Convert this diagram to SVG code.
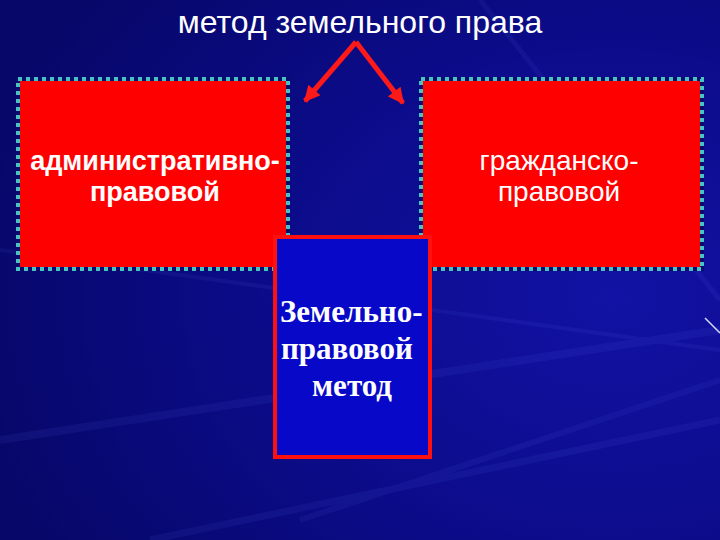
<svg xmlns="http://www.w3.org/2000/svg" width="720" height="540" viewBox="0 0 720 540">
<defs>
<radialGradient id="bg" cx="0.85" cy="0.55" r="0.9">
<stop offset="0" stop-color="#1212a4"/>
<stop offset="0.5" stop-color="#0c0c8c"/>
<stop offset="1" stop-color="#07076a"/>
</radialGradient>
<marker id="ah" viewBox="0 0 10 10" refX="9" refY="5" markerWidth="3.6" markerHeight="3.2" orient="auto" markerUnits="strokeWidth">
<path d="M0,0 L10,5 L0,10 z" fill="#ff1a1a"/>
</marker>
<style>
.red{fill:#ff0000;stroke:#0a0a70;stroke-width:4}
.dots{fill:none;stroke:#48c4c0;stroke-width:4;stroke-dasharray:4 4}
.sans{font-family:"Liberation Sans",Arial,sans-serif;fill:#ffffff;text-anchor:middle}
.serif{font-family:"Liberation Serif","Times New Roman",serif;fill:#ffffff;font-weight:bold;font-size:31px}
.conn{stroke:#ff1a1a;stroke-width:5;fill:none;marker-end:url(#ah)}
</style>
</defs>
<rect width="720" height="540" fill="url(#bg)"/>
<g opacity="0.08" stroke="#6a7cff" fill="none">
<path d="M720,330 L0,440" stroke-width="8"/>
<path d="M720,380 L300,520" stroke-width="6"/>
<path d="M720,300 L480,0" stroke-width="5"/>
<path d="M720,350 L0,250" stroke-width="4"/>
<path d="M720,420 L150,540" stroke-width="7"/>
</g>
<line x1="705" y1="318" x2="720" y2="333" stroke="#d8d8ff" stroke-width="1.5"/>
<text class="sans" x="360" y="33" font-size="32">метод земельного права</text>
<g id="connectors">
<path class="conn" d="M356,42 L305,101"/>
<path class="conn" d="M356,42 L403,103"/>
</g>
<g id="admin">
<rect class="red" x="18" y="79" width="270" height="190"/>
<rect class="dots" x="18" y="79" width="270" height="190"/>
<text class="sans" x="155" y="170" font-size="27" font-weight="bold">административно-</text>
<text class="sans" x="155" y="201" font-size="27" font-weight="bold">правовой</text>
</g>
<g id="civil">
<rect class="red" x="421" y="79" width="281" height="190"/>
<rect class="dots" x="421" y="79" width="281" height="190"/>
<text class="sans" x="559" y="170" font-size="28">гражданско-</text>
<text class="sans" x="559" y="201" font-size="28">правовой</text>
</g>
<g id="method">
<rect x="275" y="237" width="155" height="220" fill="#0808c8" stroke="#ff1010" stroke-width="4"/>
<text class="serif" x="280" y="322">Земельно-</text>
<text class="serif" x="281" y="359">правовой</text>
<text class="serif" x="312" y="396">метод</text>
</g>
</svg>
